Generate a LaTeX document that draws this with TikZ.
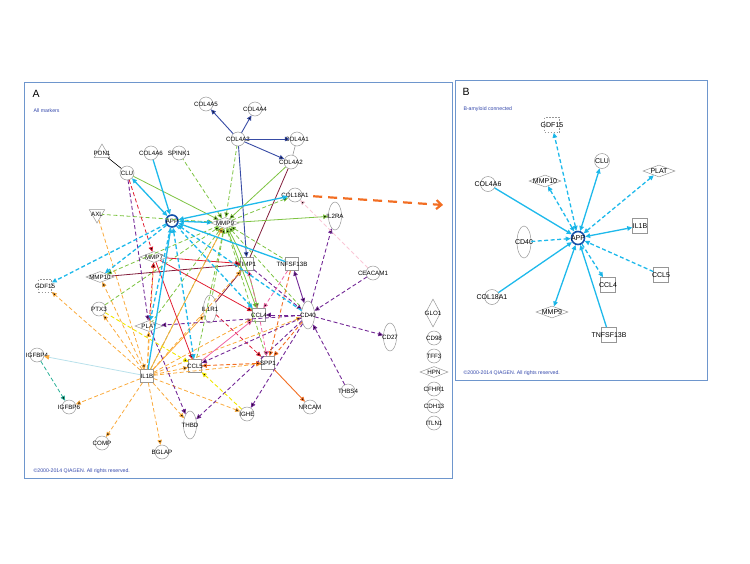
\documentclass[tikz,border=0pt]{standalone}
\usepackage{fontspec}
\setmainfont{Liberation Sans}
\usetikzlibrary{arrows.meta,shapes.geometric}
\definecolor{ipacyan}{RGB}{30,185,235}
\definecolor{ipagreen}{RGB}{125,195,65}
\definecolor{ipanavy}{RGB}{55,75,165}
\definecolor{ipamaroon}{RGB}{130,30,60}
\definecolor{ipared}{RGB}{225,30,50}
\definecolor{ipapurple}{RGB}{115,40,150}
\definecolor{ipaorange}{RGB}{250,170,60}
\definecolor{ipadkorange}{RGB}{242,110,35}
\definecolor{ipapink}{RGB}{240,100,165}
\definecolor{ipalpink}{RGB}{250,200,215}
\definecolor{ipayellow}{RGB}{240,230,0}
\definecolor{ipateal}{RGB}{40,175,150}
\definecolor{ipaltblue}{RGB}{185,225,235}
\definecolor{molgray}{RGB}{150,150,150}
\definecolor{hubblue}{RGB}{20,80,170}
\definecolor{framecol}{RGB}{110,150,205}
\definecolor{notecol}{RGB}{50,70,170}
\newcommand{\zw}[1]{\makebox[0pt]{#1}}

\begin{document}
\begin{tikzpicture}[x=1pt,y=-1pt,>={Triangle[length=5pt,width=4.5pt]},
  font=\fontsize{6.2}{7}\selectfont,
  mol/.style={circle,draw=molgray,line width=0.5pt,minimum size=14pt,inner sep=0pt},
  box/.style={rectangle,draw=molgray,line width=0.5pt,minimum size=13pt,inner sep=0pt},
  gfbox/.style={box,dash pattern=on 1.5pt off 1.5pt},
  dia/.style={diamond,draw=molgray,line width=0.5pt,minimum width=28pt,minimum height=11pt,inner sep=0pt},
  vdia/.style={dia,minimum width=15pt,minimum height=28pt},
  vell/.style={ellipse,draw=molgray,line width=0.5pt,minimum width=13pt,minimum height=28pt,inner sep=0pt},
  tri/.style={regular polygon,regular polygon sides=3,draw=molgray,line width=0.5pt,minimum size=18pt,inner sep=0pt},
  itri/.style={tri,shape border rotate=180},
  hub/.style={circle,draw=hubblue,line width=1.6pt,minimum size=12pt,inner sep=0pt},
  brk/.style={dash pattern=on 4pt off 2.5pt},
  cyS/.style={draw=ipacyan,line width=1.3pt},
  cyD/.style={cyS,brk},
  navS/.style={draw=ipanavy,line width=0.9pt},
  marS/.style={draw=ipamaroon,line width=0.8pt},
  grS/.style={draw=ipagreen,line width=0.8pt},
  grD/.style={grS,brk},
  redS/.style={draw=ipared,line width=0.8pt},
  redD/.style={redS,brk},
  purS/.style={draw=ipapurple,line width=0.9pt},
  purD/.style={purS,brk},
  orS/.style={draw=ipaorange,line width=0.8pt},
  orD/.style={orS,brk},
  dorS/.style={draw=ipadkorange,line width=0.9pt},
  dorD/.style={dorS,brk},
  pkS/.style={draw=ipapink,line width=0.8pt},
  pkD/.style={pkS,brk},
  lpkD/.style={draw=ipalpink,line width=0.8pt,brk},
  ylD/.style={draw=ipayellow,line width=0.9pt,brk},
  tlD/.style={draw=ipateal,line width=0.8pt,brk},
  note/.style={anchor=west,text=notecol,font=\fontsize{5.2}{6}\selectfont},
  panel/.style={draw=framecol,line width=0.8pt}]

\useasboundingbox (0,0) rectangle (750,563);

% panel frames
\draw[panel] (24,82) rectangle (452,478);
\draw[panel] (455,80) rectangle (707,380);

\node[anchor=west,font=\fontsize{10.5}{11}\selectfont] (tA) at (29,94) {A};
\node[note] (nA) at (30,111) {All markers};
\node[note] (cA) at (30,471) {\textcopyright2000-2014 QIAGEN. All rights reserved.};

% panel A molecules
\node[mol]   (COL4A5)   at (206,104) {\zw{COL4A5}};
\node[mol]   (COL4A4)   at (255,109) {\zw{COL4A4}};
\node[mol]   (COL4A3)   at (238,139) {\zw{COL4A3}};
\node[mol]   (COL4A1)   at (297,139) {\zw{COL4A1}};
\node[mol]   (COL4A2)   at (291,162) {\zw{COL4A2}};
\node[tri]   (PON1)     at (102,153) {\zw{PON1}};
\node[mol]   (COL4A6)   at (151,153) {\zw{COL4A6}};
\node[mol]   (SPINK1)   at (179,153) {\zw{SPINK1}};
\node[mol]   (CLU)      at (127,173) {\zw{CLU}};
\node[mol]   (COL18A1)  at (295,195) {\zw{COL18A1}};
\node[itri]  (AXL)      at (97,214)  {\zw{AXL}};
\node[hub]   (APP)      at (172,221) {\zw{APP}};
\node[dia]   (MMP9)     at (225,223) {\zw{MMP9}};
\node[vell]  (IL2RA)    at (335,216) {\zw{IL2RA}};
\node[dia]   (MMP7)     at (154,257) {\zw{MMP7}};
\node[box]   (TIMP1)    at (247,264) {\zw{TIMP1}};
\node[box]   (TNFSF13B) at (292,264) {\zw{TNFSF13B}};
\node[mol]   (CEACAM1)  at (373,273) {\zw{CEACAM1}};
\node[dia]   (MMP10)    at (100,277) {\zw{MMP10}};
\node[gfbox] (GDF15)    at (45,286)  {\zw{GDF15}};
\node[mol]   (PTX3)     at (99,309)  {\zw{PTX3}};
\node[vell]  (IL1R1)    at (210,309) {\zw{IL1R1}};
\node[box]   (CCL4)     at (259,315) {\zw{CCL4}};
\node[vell]  (CD40)     at (308,315) {\zw{CD40}};
\node[dia]   (PLAT)     at (149,326) {\zw{PLAT}};
\node[vdia]  (GLO1)     at (433,313) {\zw{GLO1}};
\node[vell]  (CD27)     at (390,337) {\zw{CD27}};
\node[mol]   (CD98)     at (434,338) {\zw{CD98}};
\node[mol]   (IGFBP4)   at (37,355)  {\zw{IGFBP4}};
\node[mol]   (TFF3)     at (434,356) {\zw{TFF3}};
\node[box]   (CCL5)     at (195,366) {\zw{CCL5}};
\node[box]   (SPP1)     at (268,363) {\zw{SPP1}};
\node[box]   (IL1B)     at (147,376) {\zw{IL1B}};
\node[dia]   (HPN)      at (434,372) {\zw{HPN}};
\node[mol]   (CFHR1)    at (434,389) {\zw{CFHR1}};
\node[mol]   (THBS4)    at (348,391) {\zw{THBS4}};
\node[mol]   (IGFBP6)   at (69,407)  {\zw{IGFBP6}};
\node[mol]   (NRCAM)    at (310,407) {\zw{NRCAM}};
\node[mol]   (CDH13)    at (434,406) {\zw{CDH13}};
\node[mol]   (IGHE)     at (247,414) {\zw{IGHE}};
\node[vell]  (THBD)     at (190,425) {\zw{THBD}};
\node[mol]   (ITLN1)    at (434,423) {\zw{ITLN1}};
\node[mol]   (COMP)     at (102,443) {\zw{COMP}};
\node[mol]   (BGLAP)    at (162,452) {\zw{BGLAP}};

% panel A relations
\path[->,navS] (COL4A3) edge (COL4A5) edge (COL4A4) edge (COL4A1) edge (COL4A2) edge (TIMP1);
\draw[molgray,line width=0.6pt] (COL4A1) -- (COL4A2);
\draw[line width=0.6pt] (PON1) -- (CLU);
\draw[marS] (COL4A2) -- (TIMP1);
\path[->,marS] (IL1R1) edge (TIMP1)
(MMP10) edge (TIMP1);

\path[->,grS] (CLU) edge (MMP9)
(COL4A2) edge (MMP9)
(MMP9) edge (IL2RA)
edge (CCL4)
edge[bend left=8] (CCL4);
\path[<-,grD] (MMP9) edge (SPINK1) edge (COL4A3) edge (AXL) edge (TNFSF13B)
edge (CD40) edge (PLAT) edge (CCL5) edge (SPP1) edge (PTX3) edge (IL1R1) edge (IL1B);
\path[->,grD] (MMP9) edge (COL18A1) edge (MMP10);

\path[->,orS] (IL1B) edge (IL1R1) edge (MMP9);
\path[->,orD] (IL1B) edge (GDF15) edge (PTX3) edge (IGFBP6) edge (COMP) edge (BGLAP)
edge (THBD) edge (CCL5) edge (SPP1) edge (CCL4) edge (CD40) edge (PLAT)
edge (MMP10) edge (TIMP1) edge (IGHE) edge (MMP7)
(AXL) edge (IL1B);
\draw[ipaltblue,line width=0.8pt,-{Triangle[length=5pt,width=4.5pt,color=ipaorange]}] (IL1B) -- (IGFBP4);
\path[->,tlD] (IGFBP4) edge (IGFBP6);

\path[->,redS] (MMP7) edge (TIMP1) edge (CCL4) edge (CCL5);
\path[->,redD] (CLU) edge (MMP7)
(PLAT) edge (MMP7)
(IL1R1) edge (SPP1);

\path[->,purD] (CLU) edge (PLAT)
(CEACAM1) edge (CD40)
(THBS4) edge (CD40)
(TIMP1) edge (CD40)
(CD40) edge (CD27) edge (IL2RA) edge (CCL4) edge (IGHE) edge (THBD) edge (CCL5) edge (PLAT)
(PLAT) edge (THBD);
\path[<->,purS] (TNFSF13B) edge (CD40);

\path[->,ylD] (PTX3) edge (CCL5)
(IGHE) edge (CCL5);
\path[->,dorS] (SPP1) edge (NRCAM);
\path[->,dorD] (TNFSF13B) edge (SPP1)
(CD40) edge (SPP1);
\path[<->,dorD] (CCL5) edge (SPP1);
\path[->,pkS] (CCL5) edge (CCL4);
\path[->,pkD] (TNFSF13B) edge (CCL4)
(CCL4) edge (TIMP1) edge (SPP1);
\path[->,lpkD] (CEACAM1) edge (COL18A1);

\path[->,cyS] (COL4A6) edge (APP)
(TNFSF13B) edge (APP)
(IL1B) edge (APP);
\path[<->,cyS] (APP) edge (CLU) edge (MMP9) edge (COL18A1);
\path[->,cyD] (APP) edge (GDF15) edge (MMP10) edge (PLAT) edge (CCL4)
(CD40) edge (APP);
\path[<->,cyD] (APP) edge (CCL5);

% link to panel B
\coordinate (toB) at (443,205);
\draw[ipadkorange,line width=2.2pt,dash pattern=on 9pt off 6pt,shorten <=11pt,
  -{Straight Barb[length=5pt,width=9pt]}] (COL18A1) -- (toB);

% panel B
\node[anchor=west,font=\fontsize{10.5}{11}\selectfont] (tB) at (459,92) {B};
\node[note] (nB) at (460,109) {B-amyloid connected};
\node[note] (cB) at (460,373) {\textcopyright2000-2014 QIAGEN. All rights reserved.};

\begin{scope}[font=\fontsize{7}{8}\selectfont,
  mol/.append style={minimum size=15pt},
  box/.append style={minimum size=15pt},
  vell/.append style={minimum width=14pt,minimum height=32pt},
  dia/.append style={minimum width=32pt,minimum height=12pt},
  hub/.append style={minimum size=13pt}]
\node[gfbox] (bGDF15)    at (552,125) {\zw{GDF15}};
\node[mol]   (bCLU)      at (602,161) {\zw{CLU}};
\node[dia]   (bPLAT)     at (659,171) {\zw{PLAT}};
\node[dia]   (bMMP10)    at (545,181) {\zw{MMP10}};
\node[mol]   (bCOL4A6)   at (488,184) {\zw{COL4A6}};
\node[box]   (bIL1B)     at (640,226) {\zw{IL1B}};
\node[hub]   (bAPP)      at (578,238) {\zw{APP}};
\node[vell]  (bCD40)     at (524,242) {\zw{CD40}};
\node[box]   (bCCL5)     at (661,275) {\zw{CCL5}};
\node[box]   (bCCL4)     at (608,285) {\zw{CCL4}};
\node[mol]   (bCOL18A1)  at (492,297) {\zw{COL18A1}};
\node[dia]   (bMMP9)     at (552,312) {\zw{MMP9}};
\node[box]   (bTNFSF13B) at (609,335) {\zw{TNFSF13B}};

\path[<->,cyS] (bAPP) edge (bCLU) edge (bIL1B) edge (bMMP9);
\path[->,cyS] (bCOL4A6) edge (bAPP)
(bCOL18A1) edge (bAPP)
(bTNFSF13B) edge (bAPP);
\path[<->,cyD] (bAPP) edge (bGDF15) edge (bMMP10) edge (bPLAT);
\path[->,cyD] (bCD40) edge (bAPP)
(bCCL5) edge (bAPP)
(bAPP) edge (bCCL4);
\end{scope}
\end{tikzpicture}
\end{document}
